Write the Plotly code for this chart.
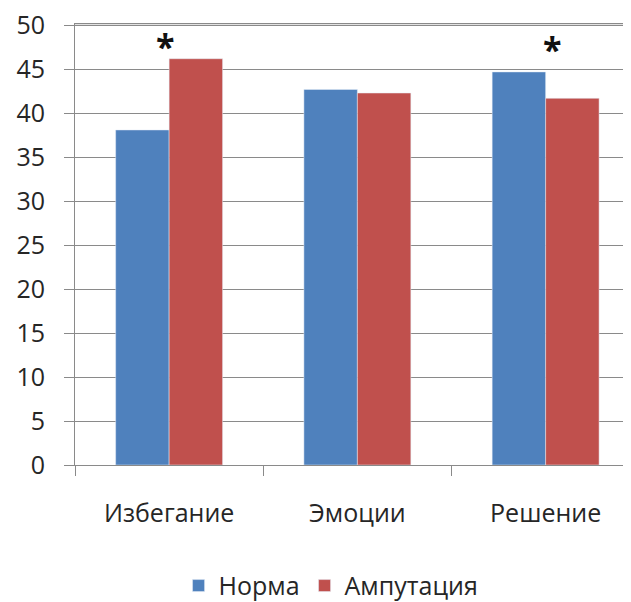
import plotly.graph_objects as go

categories = ["Избегание", "Эмоции", "Решение"]
norma = [38.1, 42.7, 44.7]
amputation = [46.2, 42.3, 41.7]
series_names = ["Норма", "Ампутация"]
significant = ["Избегание", "Решение"]
star_y = [47.6, 47.35]
star_shift = [-4, 7]
y_max = 50

FONT = "Open Sans"
TXT = "#262626"
GRID = "#8a8a8a"

fig = go.Figure()
fig.add_trace(go.Bar(x=categories, y=norma, name=series_names[0], marker_color="#4F81BD"))
fig.add_trace(go.Bar(x=categories, y=amputation, name=series_names[1], marker_color="#C0504D"))

for cat, yy, dx in zip(significant, star_y, star_shift):
    fig.add_annotation(x=cat, y=yy, text="<b>*</b>", showarrow=False,
                       font=dict(family=FONT, size=34, color="#111"),
                       xanchor="center", yanchor="middle", xshift=dx)

# top gridline (at the range edge)
fig.add_shape(type="line", xref="paper", yref="y", x0=0, x1=1, y0=y_max, y1=y_max,
              line=dict(color=GRID, width=1.3), layer="above")

fig.update_layout(
    width=631, height=602,
    margin=dict(l=67, r=0, t=16, b=145),
    paper_bgcolor="white", plot_bgcolor="white",
    barmode="group", bargap=0.432, bargroupgap=0,
    font=dict(family=FONT, size=25, color=TXT),
    legend=dict(orientation="h", x=0.454, xanchor="center", y=-0.274, yanchor="middle",
                font=dict(family=FONT, size=25, color=TXT), itemwidth=30),
)
fig.update_xaxes(type="category", range=[-0.5, 2.496], showgrid=False,
                 showline=True, mirror=True, linecolor=GRID, linewidth=1,
                 ticks="outside", tickson="boundaries", ticklen=10, tickcolor=GRID,
                 tickfont=dict(family=FONT, size=25, color=TXT), ticklabelstandoff=26)
fig.update_yaxes(range=[0, 50.15], tick0=0, dtick=5, showgrid=True, gridcolor=GRID, gridwidth=1,
                 showline=True, linecolor=GRID, linewidth=1, zeroline=False,
                 ticks="outside", ticklen=10, tickcolor=GRID, ticklabeloverflow="allow",
                 tickfont=dict(family=FONT, size=25, color=TXT), ticklabelstandoff=14)

fig.write_html("out.html", config={"displayModeBar": False})
